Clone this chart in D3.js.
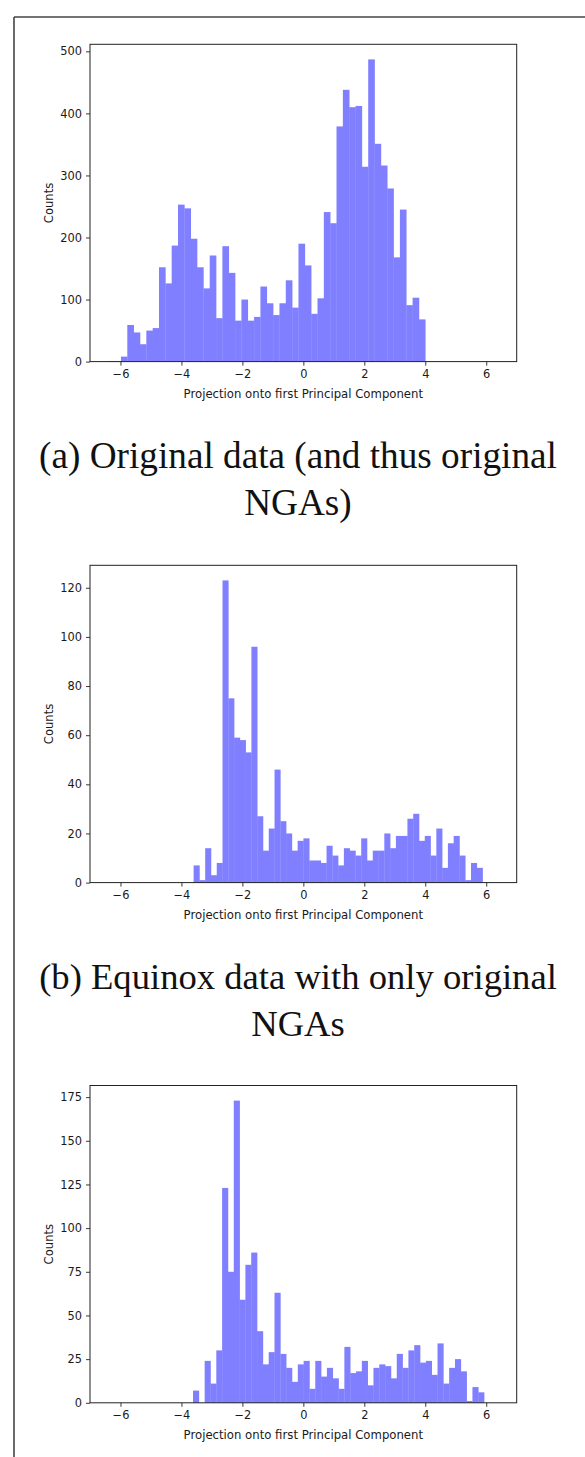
<!DOCTYPE html>
<html>
<head>
<meta charset="utf-8">
<script src="https://cdn.jsdelivr.net/npm/d3@7"></script>
<style>
  html, body { margin: 0; padding: 0; background: #fff; }
  svg { display: block; }
</style>
</head>
<body>
<div id="chart"></div>
<script>
// ---- Data ----
const xTicks = [-6, -4, -2, 0, 2, 4, 6];
const xDomain = [-7, 7];

const rangeA = [-6.4, 4.0];
const countsA = [1, 1, 8, 59, 47, 28, 50, 54, 152, 126, 187, 253, 247, 198, 152, 118, 171, 70, 186, 143,
  66, 100, 66, 72, 121, 94, 75, 94, 131, 87, 190, 155, 77, 102, 241, 223, 379, 438, 410, 412,
  314, 487, 351, 316, 279, 168, 245, 91, 103, 68];
const yTicksA = [0, 100, 200, 300, 400, 500];

const rangeB = [-3.6, 5.88];
const countsB = [7, 1, 14, 3, 8, 123, 75, 59, 58, 53, 96, 27, 13, 22, 46, 25, 20, 13, 17, 18,
  9, 9, 8, 15, 11, 7, 14, 13, 11, 18, 9, 13, 13, 20, 14, 19, 19, 26, 28, 17,
  19, 11, 22, 6, 16, 19, 11, 1, 8, 6];
const yTicksB = [0, 20, 40, 60, 80, 100, 120];

const rangeC = [-3.62, 5.93];
const countsC = [7, 0, 24, 11, 30, 123, 75, 173, 59, 79, 86, 41, 22, 29, 63, 28, 20, 12, 22, 24,
  8, 24, 15, 20, 14, 8, 32, 17, 18, 24, 10, 20, 22, 21, 14, 28, 20, 30, 33, 23,
  24, 16, 34, 11, 20, 25, 18, 1, 9, 6];
const yTicksC = [0, 25, 50, 75, 100, 125, 150, 175];

const xLabel = "Projection onto first Principal Component";
const yLabel = "Counts";
const captionA = ["(a) Original data (and thus original", "NGAs)"];
const captionB = ["(b) Equinox data with only original", "NGAs"];

// ---- Layout ----
const W = 585, H = 1457;
const axLeft = 90, axRight = 516.7, axH = 317.3;
const panelTops = [44.3, 565.3, 1085.5];
const barColor = "#7f7fff";
const textColor = "#1a1a1a";
const tickFont = "DejaVu Sans, sans-serif";

const svg = d3.select("#chart").append("svg")
  .attr("width", W).attr("height", H)
  .attr("viewBox", `0 0 ${W} ${H}`);

// frame
svg.append("line").attr("x1", 14).attr("x2", 14).attr("y1", 17).attr("y2", H)
  .attr("stroke", "#444").attr("stroke-width", 1.6);
svg.append("line").attr("x1", 14).attr("x2", W).attr("y1", 17).attr("y2", 17)
  .attr("stroke", "#444").attr("stroke-width", 1.6);

const x = d3.scaleLinear().domain(xDomain).range([axLeft, axRight]);

function panel(top, range, counts, yTicks) {
  const g = svg.append("g");
  const bottom = top + axH;
  const maxC = d3.max(counts);
  const y = d3.scaleLinear().domain([0, maxC * 1.05]).range([bottom, top]);
  const n = counts.length;
  const w = (range[1] - range[0]) / n;
  const bins = counts.map((c, i) => ({ x0: range[0] + i * w, x1: range[0] + (i + 1) * w, c }));

  g.append("g").selectAll("rect").data(bins).join("rect")
    .attr("x", d => x(d.x0))
    .attr("width", d => x(d.x1) - x(d.x0) + 0.3)
    .attr("y", d => y(d.c))
    .attr("height", d => y(0) - y(d.c))
    .attr("fill", barColor);

  // axes
  const xa = g.append("g").attr("transform", `translate(0,${bottom})`)
    .call(d3.axisBottom(x).tickValues(xTicks).tickSize(4).tickPadding(4));
  const ya = g.append("g").attr("transform", `translate(${axLeft},0)`)
    .call(d3.axisLeft(y).tickValues(yTicks).tickSize(4).tickPadding(4).tickFormat(d3.format("d")));
  [xa, ya].forEach(a => {
    a.select(".domain").remove();
    a.selectAll("line").attr("stroke", "#222").attr("stroke-width", 0.9);
    a.selectAll("text").attr("fill", textColor).style("font-family", tickFont).style("font-size", "11.4px");
  });

  // spines
  g.append("rect").attr("x", axLeft).attr("y", top)
    .attr("width", axRight - axLeft).attr("height", axH)
    .attr("fill", "none").attr("stroke", "#222").attr("stroke-width", 1);

  g.append("text").attr("x", (axLeft + axRight) / 2).attr("y", bottom + 32)
    .attr("text-anchor", "middle").attr("dominant-baseline", "central")
    .attr("fill", textColor).style("font-family", tickFont).style("font-size", "11.7px")
    .text(xLabel);

  g.append("text")
    .attr("transform", `translate(49,${(top + bottom) / 2}) rotate(-90)`)
    .attr("text-anchor", "middle").attr("dominant-baseline", "central")
    .attr("fill", textColor).style("font-family", tickFont).style("font-size", "11.6px")
    .text(yLabel);
  return bottom;
}

const bA = panel(panelTops[0], rangeA, countsA, yTicksA);
const bB = panel(panelTops[1], rangeB, countsB, yTicksB);
panel(panelTops[2], rangeC, countsC, yTicksC);

function caption(lines, baseline) {
  const cx = 298;
  const capFont = "Liberation Serif, DejaVu Serif, serif";
  const t1 = svg.append("text").attr("x", cx).attr("y", baseline)
    .attr("text-anchor", "middle").attr("fill", "#111")
    .style("font-family", capFont).style("font-size", "34px").text(lines[0]);
  const len = t1.node().getComputedTextLength();
  const fs = 34 * 518 / len;
  t1.style("font-size", fs + "px");
  svg.append("text").attr("x", cx).attr("y", baseline + 47)
    .attr("text-anchor", "middle").attr("fill", "#111")
    .style("font-family", capFont).style("font-size", fs + "px").text(lines[1]);
}
caption(captionA, bA + 106.5);
caption(captionB, bB + 106.5);
</script>
</body>
</html>
